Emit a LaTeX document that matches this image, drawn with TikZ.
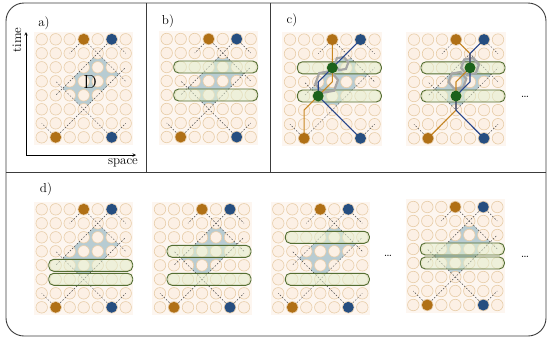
\documentclass[tikz,border=0pt]{standalone}
\usetikzlibrary{shapes.geometric}

\definecolor{siteline}{RGB}{232,205,168}
\definecolor{sitefill}{RGB}{252,240,229}
\definecolor{gridbg}{RGB}{253,246,240}
\definecolor{regionD}{RGB}{184,204,210}
\definecolor{qorange}{RGB}{176,112,22}
\definecolor{qblue}{RGB}{38,78,128}
\definecolor{qgreen}{RGB}{28,98,28}
\definecolor{lorange}{RGB}{200,135,35}
\definecolor{lblue}{RGB}{40,70,140}
\definecolor{bandline}{RGB}{84,110,50}
\definecolor{bandfill}{RGB}{226,240,208}
\definecolor{frame}{RGB}{60,60,60}

\tikzset{
  site/.style={circle,draw=siteline,fill=sitefill,line width=0.6pt,minimum size=11.5pt,inner sep=0pt},
  srcdot/.style={circle,fill=#1,minimum size=11pt,inner sep=0pt},
  cone/.style={dash pattern=on 1.6pt off 1.6pt,gray!60!black,line width=0.45pt},
  band/.style={draw=bandline,fill=bandfill,fill opacity=0.5,line width=0.9pt,rounded corners=5pt,
    minimum width=84pt,minimum height=12pt,inner sep=0pt},
  wline/.style={line width=1.1pt,#1},
  hexcell/.style={regular polygon,regular polygon sides=6,draw=gray!70,line width=2.2pt,inner sep=0pt,rotate=10},
  lbl/.style={font=\fontsize{13}{15}\selectfont},
}

% one 7x8 lattice with region D and the light cones
\newcommand{\lattice}[1]{%
  \fill[gridbg] (-0.55,-0.55) rectangle (6.55,7.55);
  \fill[regionD] (3,2) -- (5.5,4.5) -- (4,6) -- (1.5,3.5) -- cycle;
  \foreach \c in {0,...,6}
    \foreach \r in {0,...,7}
      \node[site] (#1-\c-\r) at (\c,\r) {};
  \draw[cone] (#1-1-0.center) -- (#1-0-1.center);
  \draw[cone] (#1-1-0.center) -- (#1-6-5.center);
  \draw[cone] (#1-5-0.center) -- (#1-6-1.center);
  \draw[cone] (#1-5-0.center) -- (#1-1-4.center);
  \draw[cone] (#1-3-7.center) -- (#1-2-6.center);
  \draw[cone] (#1-3-7.center) -- (#1-6-4.center);
  \draw[cone] (#1-5-7.center) -- (#1-6-6.center);
  \draw[cone] (#1-5-7.center) -- (#1-1-3.center);
}
\newcommand{\sources}[1]{%
  \node[srcdot=qorange] (#1-ob) at (1,0) {};
  \node[srcdot=qblue] (#1-bb) at (5,0) {};
  \node[srcdot=qorange] (#1-ot) at (3,7) {};
  \node[srcdot=qblue] (#1-bt) at (5,7) {};
}
\newcommand{\bands}[3]{%
  \node[band] (#1-up) at (3.5,#2) {};
  \node[band] (#1-lo) at (3.5,#3) {};
}

\begin{document}
\begin{tikzpicture}[x=1pt,y=-1pt,>=stealth]
\useasboundingbox (0,0) rectangle (550,341);

% frame
\draw[frame,line width=0.9pt,rounded corners=18pt] (6,3) rectangle (546,336);
\draw[frame,line width=0.9pt] (146,3) -- (146,172.7);
\draw[frame,line width=0.9pt] (270,3) -- (270,172.7);
\draw[frame,line width=0.9pt] (6,172.7) -- (546,172.7);

\node[lbl] (la) at (44,23) {a)};
\node[lbl] (lb) at (168,21) {b)};
\node[lbl] (lc) at (292,20) {c)};
\node[lbl] (ld) at (46,189) {d)};

% a)
\coordinate (orig) at (26,155);
\coordinate (tend) at (26,32);
\coordinate (send) at (136,155);
\draw[->,line width=0.6pt] (orig) -- (tend);
\draw[->,line width=0.6pt] (orig) -- (send);
\node[lbl,rotate=90] (time) at (17,40) {time};
\node[lbl] (space) at (123,163) {space};
\begin{scope}[shift={(41.7,137.3)},x=14pt,y=14pt]
  \lattice{a}
  \sources{a}
  \node[font=\fontsize{19}{21}\selectfont] (D) at (3.45,3.95) {D};
\end{scope}

% b)
\begin{scope}[shift={(166.7,137)},x=14pt,y=14pt]
  \lattice{b}
  \bands{b}{5}{3}
  \sources{b}
\end{scope}

% c)
\begin{scope}[shift={(290,138.3)},x=14.1pt,y=14.1pt]
  \lattice{ca}
  \bands{ca}{5}{3}
  \node[hexcell,minimum size=14pt] (ca-h1) at (3.65,5.3) {};
  \node[hexcell,minimum size=23pt] (ca-h2) at (2.6,4.0) {};
  \draw[wline=lorange] (ca-3-7.center) -- (ca-3-5.center) -- (ca-3-4.center) -- (ca-2-3.center)
    -- (ca-1-2.center) -- (ca-1-0.center);
  \draw[wline=lblue] (ca-5-7.center) -- (ca-3-5.center) -- (ca-2-4.center) -- (ca-2-3.center)
    -- (ca-5-0.center);
  \sources{ca}
  \node[srcdot=qgreen] (ca-g1) at (3,5) {};
  \node[srcdot=qgreen] (ca-g2) at (2,3) {};
\end{scope}
\begin{scope}[shift={(414,138.3)},x=14pt,y=14.1pt]
  \lattice{cb}
  \bands{cb}{5}{3}
  \node[hexcell,minimum size=18pt] (cb-h1) at (4,5.1) {};
  \node[hexcell,minimum size=18pt] (cb-h2) at (3.1,4.1) {};
  \draw[wline=lorange] (cb-3-7.center) -- (cb-4-6.center) -- (cb-4-5.center) -- (cb-3-4.center)
    -- (cb-3-3.center) -- (cb-3-2.center) -- (cb-1-0.center);
  \draw[wline=lblue] (cb-5-7.center) -- (cb-4-6.center) -- (cb-4-5.center) -- (cb-4-4.center)
    -- (cb-3-3.center) -- (cb-3-2.center) -- (cb-5-0.center);
  \sources{cb}
  \node[srcdot=qgreen] (cb-g1) at (4,5) {};
  \node[srcdot=qgreen] (cb-g2) at (3,3) {};
\end{scope}
\node[lbl] (dotsc) at (525,97) {\dots};

% d)
\begin{scope}[shift={(41.7,307.3)},x=14pt,y=14pt]
  \lattice{da}
  \bands{da}{3}{2}
  \sources{da}
\end{scope}
\begin{scope}[shift={(160,307.3)},x=14pt,y=14pt]
  \lattice{db}
  \bands{db}{4}{2}
  \sources{db}
\end{scope}
\begin{scope}[shift={(278.3,307.3)},x=14pt,y=14pt]
  \lattice{dc}
  \bands{dc}{5}{2}
  \sources{dc}
\end{scope}
\node[lbl] (dotsd1) at (388,256) {\dots};
\begin{scope}[shift={(413.3,305)},x=14pt,y=14pt]
  \lattice{dd}
  \bands{dd}{4}{3}
  \sources{dd}
\end{scope}
\node[lbl] (dotsd2) at (525,257) {\dots};
\end{tikzpicture}
\end{document}
